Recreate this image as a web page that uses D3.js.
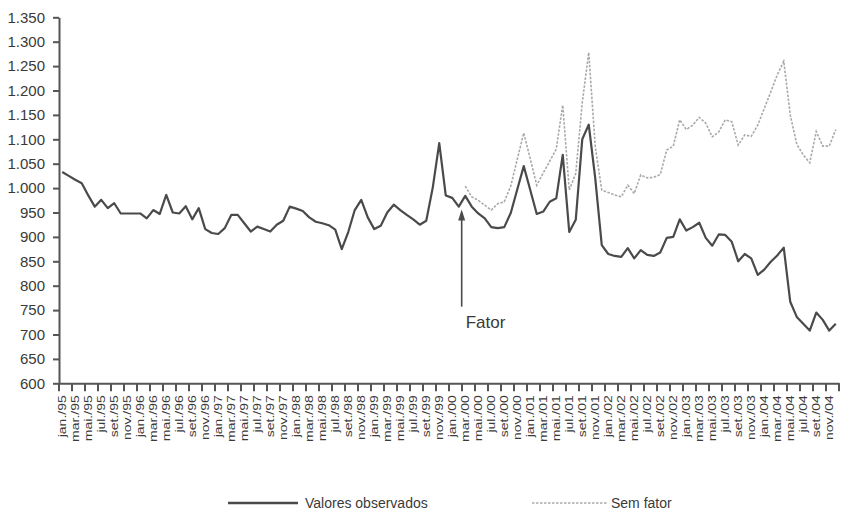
<!DOCTYPE html>
<html><head><meta charset="utf-8">
<script src="https://cdn.jsdelivr.net/npm/d3@7"></script>
<style>
body{margin:0;background:#fff;}
svg text{fill:#3a3a3a;font-family:"Liberation Sans",Arial,sans-serif;}
</style></head><body>
<svg id="chart" width="854" height="512"></svg>
<script>
// ---- data ----
const monthNames = ['jan','fev','mar','abr','mai','jun','jul','ago','set','out','nov','dez'];
const years = ['95','96','97','98','99','00','01','02','03','04'];
const categories = years.flatMap(y => monthNames.map(m => `${m}./${y}`));
const tickLabels = categories.filter((d, i) => i % 2 === 0);
const yTicks = [600,650,700,750,800,850,900,950,1000,1050,1100,1150,1200,1250,1300,1350];

const observed = [
  1033,1025,1017,1010,985,962,976,959,969,948,948,948,
  948,938,955,947,986,950,948,963,936,959,916,908,
  906,918,945,945,928,911,921,916,911,925,933,962,
  958,953,940,931,928,924,915,875,910,955,976,940,
  916,923,950,966,955,945,936,925,933,1001,1092,985,
  980,962,984,962,948,938,920,918,920,949,997,1045,
  996,947,952,972,979,1068,910,935,1100,1130,1020,883,
  865,861,859,877,856,873,863,861,868,898,900,936,
  913,920,929,898,882,905,904,890,850,865,856,822,
  833,849,862,878,767,736,722,708,745,730,708,722
];
const semFatorStart = 'mar./00';
const semFator = [
  1004,982,975,965,955,968,972,1004,1059,1113,
  1060,1006,1031,1055,1080,1170,996,1030,1175,1278,1085,996,
  991,986,982,1006,989,1027,1021,1022,1028,1078,1086,1140,
  1120,1129,1145,1133,1105,1115,1140,1136,1088,1109,1106,1129,
  1163,1197,1232,1260,1150,1090,1068,1052,1116,1086,1086,1120
];
const seriesNames = ['Valores observados', 'Sem fator'];
const factorLabel = 'Fator';
const factorCategory = 'fev./00';
const factorTip = 956, factorTail = 757;

// ---- chart ----
const svg = d3.select('#chart');
const x = d3.scaleBand().domain(categories).range([59, 839]).padding(0);
const bw = x.bandwidth();
const cx = d => x(d) + bw / 2;
const y = d3.scaleLinear().domain([600, 1350]).range([383.3, 17.3]);

const obsData = categories.map((c, i) => ({c, v: observed[i]}));
const s0 = categories.indexOf(semFatorStart);
const semData = semFator.map((v, i) => ({c: categories[s0 + i], v}));

const line = d3.line().x(d => cx(d.c)).y(d => y(d.v));

svg.append('path').datum(semData).attr('d', line)
  .attr('fill', 'none').attr('stroke', '#a9a9a9').attr('stroke-width', 1.6)
  .attr('stroke-dasharray', '2.5,1.5');
svg.append('path').datum(obsData).attr('d', line)
  .attr('fill', 'none').attr('stroke', '#4a4a4a').attr('stroke-width', 2.2)
  .attr('stroke-linejoin', 'round');

// y axis
const fmt = d => d3.format(',')(d).replace(',', '.');
const ya = svg.append('g').attr('transform', 'translate(59,0)')
  .call(d3.axisLeft(y).tickValues(yTicks).tickSize(6).tickSizeOuter(0).tickPadding(8).tickFormat(fmt));
ya.select('.domain').attr('stroke', '#555').attr('stroke-width', 2);
ya.selectAll('.tick line').attr('stroke', '#555').attr('stroke-width', 2);
ya.selectAll('.tick text').attr('font-family', '"Liberation Sans", Arial, sans-serif')
  .attr('font-size', 15).attr('fill', '#3a3a3a');

// x axis
const xa = svg.append('g').attr('transform', `translate(0,${y(600)})`)
  .call(d3.axisBottom(x).tickValues(tickLabels).tickSize(8).tickSizeOuter(0));
xa.select('.domain').attr('stroke', '#555').attr('stroke-width', 2);
xa.selectAll('.tick line').attr('stroke', '#555').attr('stroke-width', 2)
  .attr('transform', `translate(${-bw / 2},0)`);
xa.append('line').attr('x1', x.range()[1]).attr('x2', x.range()[1]).attr('y1', 0).attr('y2', 8)
  .attr('stroke', '#555').attr('stroke-width', 2);
xa.selectAll('.tick text')
  .attr('font-family', '"Liberation Sans", Arial, sans-serif')
  .attr('font-size', 14).attr('fill', '#3a3a3a')
  .attr('text-anchor', 'end').attr('x', 0).attr('y', 0).attr('dy', null)
  .attr('transform', 'rotate(-90) translate(-12,0) scale(1,0.8) translate(0,5)');

// factor annotation
const ax = x(factorCategory) + bw * 0.95;
svg.append('line').attr('x1', ax).attr('x2', ax).attr('y1', y(factorTail)).attr('y2', y(factorTip) + 3)
  .attr('stroke', '#4a4a4a').attr('stroke-width', 1.6);
svg.append('path')
  .attr('d', `M${ax},${y(factorTip)} L${ax - 3.5},${y(factorTip) + 11} L${ax + 3.5},${y(factorTip) + 11} Z`)
  .attr('fill', '#4a4a4a');
svg.append('text').attr('x', ax + 4).attr('y', y(factorTail) + 21)
  .attr('font-size', 17).text(factorLabel);

// legend
const lg = svg.append('g');
lg.append('line').attr('x1', 228).attr('x2', 298).attr('y1', 503).attr('y2', 503)
  .attr('stroke', '#4a4a4a').attr('stroke-width', 2.5);
lg.append('text').attr('x', 305).attr('y', 508).attr('font-size', 14).text(seriesNames[0]);
lg.append('line').attr('x1', 532).attr('x2', 608).attr('y1', 503).attr('y2', 503)
  .attr('stroke', '#a9a9a9').attr('stroke-width', 1.6).attr('stroke-dasharray', '2.5,1.5');
lg.append('text').attr('x', 611).attr('y', 508).attr('font-size', 14).text(seriesNames[1]);
</script>
</body></html>
